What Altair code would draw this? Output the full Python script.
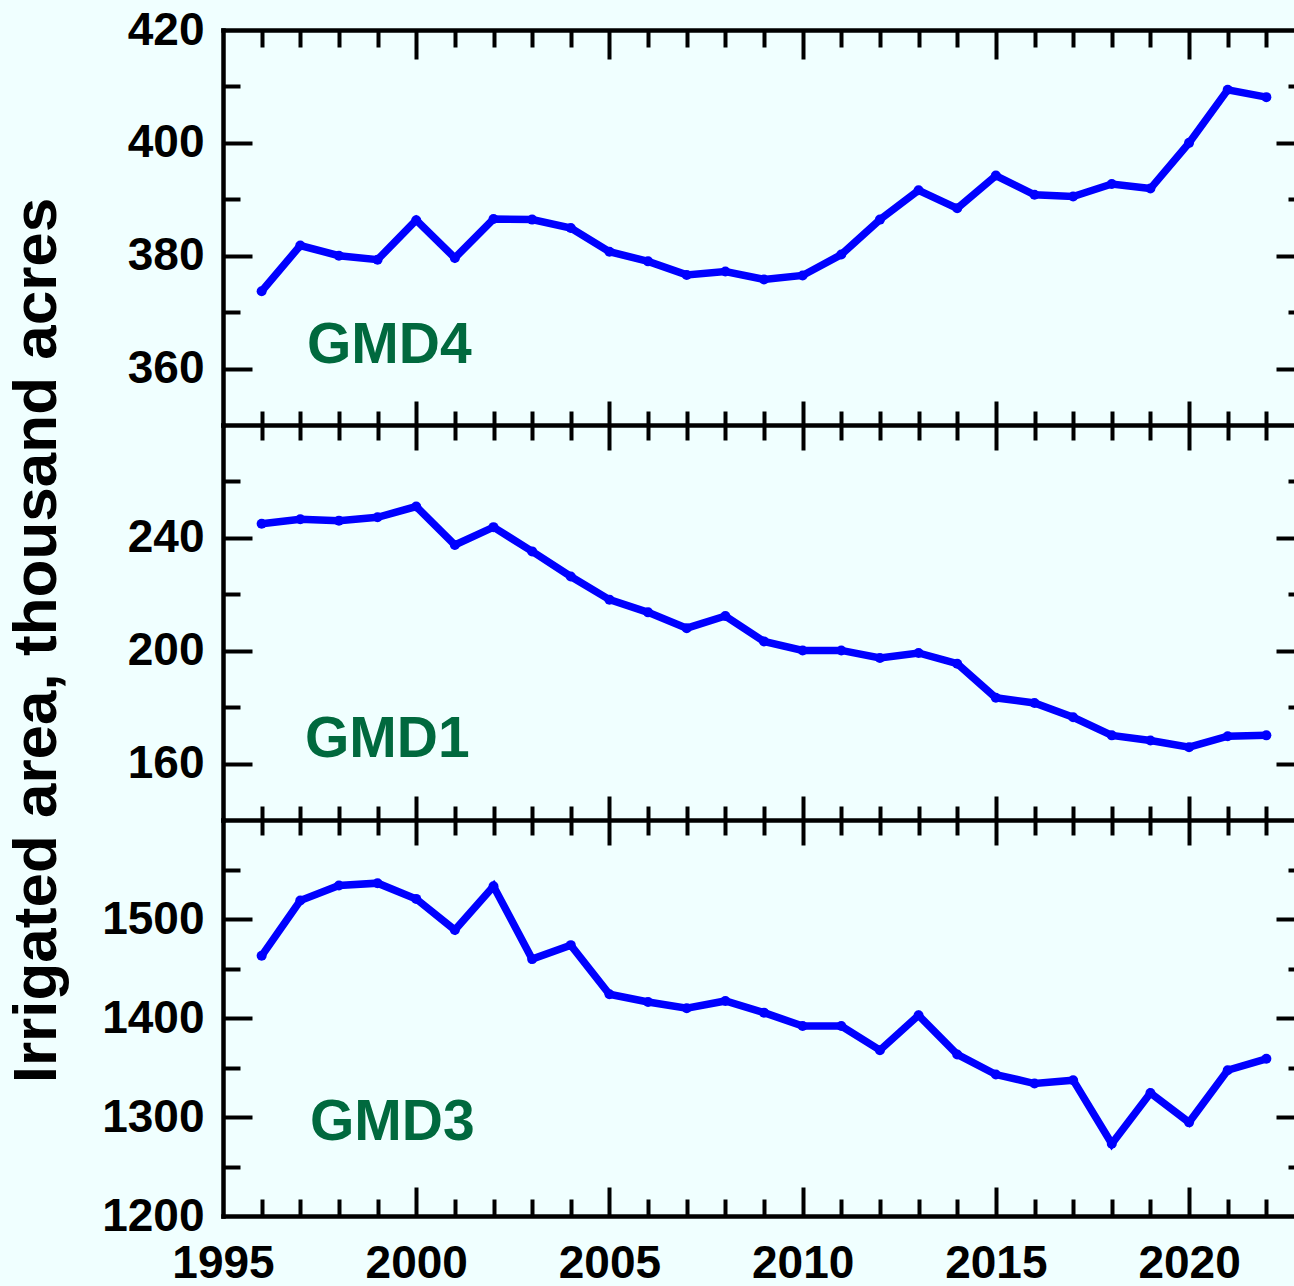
import altair as alt
import pandas as pd

# Irrigated area (thousand acres) by groundwater management district
years = list(range(1996, 2023))

gmd4 = [373.7, 381.8, 380.0, 379.3, 386.3, 379.6, 386.5, 386.4, 384.9, 380.7,
        379.0, 376.6, 377.2, 375.8, 376.5, 380.2, 386.4, 391.6, 388.4, 394.2,
        390.8, 390.5, 392.7, 391.9, 400.0, 409.4, 408.1]

gmd1 = [245.0, 246.6, 246.1, 247.3, 251.1, 237.5, 243.8, 235.2, 226.3, 218.1,
        213.6, 208.0, 212.3, 203.3, 200.1, 200.1, 197.4, 199.2, 195.4, 183.3,
        181.5, 176.4, 170.0, 168.2, 165.8, 169.7, 170.0]

gmd3 = [1462.8, 1518.6, 1533.8, 1536.2, 1520.3, 1488.9, 1533.1, 1459.5, 1473.6, 1424.0,
        1416.2, 1409.8, 1417.2, 1405.4, 1391.9, 1391.9, 1367.5, 1402.7, 1363.2, 1342.9,
        1333.8, 1337.2, 1273.0, 1324.3, 1294.6, 1347.3, 1358.8]

district_names = ["GMD4", "GMD1", "GMD3"]
series = [gmd4, gmd1, gmd3]

x_domain = [1995, 2023]
x_labels = [1995, 2000, 2005, 2010, 2015, 2020]
x_major = [2000, 2005, 2010, 2015, 2020]
x_minor = [y for y in range(1996, 2023) if y % 5 != 0]

y_domains = [[350, 420], [140, 280], [1200, 1600]]
y_labels = [[360, 380, 400, 420], [160, 200, 240], [1200, 1300, 1400, 1500]]
y_major = [[360, 380, 400], [160, 200, 240], [1300, 1400, 1500]]
y_minor = [[370, 390, 410], [180, 220, 260], [1250, 1350, 1450, 1550]]

FONT = "Liberation Sans"
BLUE = "#0000FF"
GREEN = "#00693E"

# layout: one tall view split into three stacked bands
VIEW_W = 1071          # visible part of the plot
X_SPAN = 1082          # full x range; the right frame sits just past the page edge
H = 1186
BANDS = [(0, 395), (395, 790), (790, H)]
MAJOR, MINOR = 29, 17          # tick lengths at the outer frame
UP_MAJOR, UP_MINOR = 24, 14    # ticks rising from a band boundary
DN_MAJOR, DN_MINOR = 25, 15    # ticks hanging from a band boundary
FRAME_W = 4.5

xs = alt.Scale(domain=x_domain, range=[0, X_SPAN], nice=False, zero=False)


def yscale(i):
    top, bottom = BANDS[i]
    return alt.Scale(domain=y_domains[i], range=[bottom, top], nice=False, zero=False)


def tick_axis(orient, values, length, offset, domain=False):
    return alt.Axis(orient=orient, values=values, tickSize=length, offset=offset,
                    tickWidth=4, tickColor="black", labels=False, domain=domain,
                    domainWidth=FRAME_W, domainColor="black", domainCap="square",
                    grid=False, title=None)


# x tick axes attached to each band: (bottom-orient = hanging down, top-orient = rising up)
x_tick_axes = [
    [tick_axis("bottom", x_major, MAJOR, -H, domain=True),
     tick_axis("bottom", x_minor, MINOR, -H),
     tick_axis("top", x_major, UP_MAJOR, -BANDS[0][1]),
     tick_axis("top", x_minor, UP_MINOR, -BANDS[0][1])],
    [tick_axis("bottom", x_major, DN_MAJOR, BANDS[1][0] - H, domain=True),
     tick_axis("bottom", x_minor, DN_MINOR, BANDS[1][0] - H),
     tick_axis("top", x_major, UP_MAJOR, -BANDS[1][1]),
     tick_axis("top", x_minor, UP_MINOR, -BANDS[1][1])],
    [tick_axis("bottom", x_major, DN_MAJOR, BANDS[2][0] - H, domain=True),
     tick_axis("bottom", x_minor, DN_MINOR, BANDS[2][0] - H),
     tick_axis("top", x_major, MAJOR, -H, domain=True),
     tick_axis("top", x_minor, MINOR, -H)],
]

text_pos = [(84, 333), (82, 727), (87, 1110)]

layers = []
for i, values in enumerate(series):
    df = pd.DataFrame({"year": years, "area": values})
    base = alt.Chart(df)
    ys = yscale(i)

    y_ticks = [
        tick_axis("right", y_major[i], MAJOR, -VIEW_W, domain=True),
        tick_axis("right", y_minor[i], MINOR, -VIEW_W),
        tick_axis("left", y_major[i], MAJOR, -X_SPAN),
        tick_axis("left", y_minor[i], MINOR, -X_SPAN),
    ]
    for xa, ya in zip(x_tick_axes[i], y_ticks):
        layers.append(base.mark_point(opacity=0).encode(
            x=alt.X("year:Q", scale=xs, axis=xa),
            y=alt.Y("area:Q", scale=ys, axis=ya),
        ))

    y_kw = dict(orient="left", values=y_labels[i], format="d", ticks=False, tickSize=0,
                domain=False, grid=False, labelFont=FONT, labelFontWeight="bold",
                labelFontSize=46, labelColor="black", labelPadding=19,
                labelOverlap=False, title=None)
    if i == 1:
        y_kw.update(title="Irrigated area, thousand acres", titleFont=FONT,
                    titleFontWeight="bold", titleFontSize=62, titleColor="black",
                    titleAngle=270, titleX=-168, titleY=610, titleAlign="center",
                    titleBaseline="alphabetic")
    x_axis = None
    if i == 2:
        x_axis = alt.Axis(orient="bottom", values=x_labels, format="d", ticks=False,
                          tickSize=0, domain=False, grid=False, title=None,
                          labelFont=FONT, labelFontWeight="bold", labelFontSize=46,
                          labelColor="black", labelPadding=25, labelFlush=False,
                          labelOverlap=False)

    layers.append(base.mark_line(color=BLUE, strokeWidth=7.5).encode(
        x=alt.X("year:Q", scale=xs, axis=x_axis),
        y=alt.Y("area:Q", scale=ys, axis=alt.Axis(**y_kw)),
    ))
    layers.append(base.mark_point(filled=True, size=100, color=BLUE, opacity=1).encode(
        x=alt.X("year:Q", scale=xs, axis=None),
        y=alt.Y("area:Q", scale=ys, axis=None),
    ))
    layers.append(alt.Chart(pd.DataFrame({"label": [district_names[i]]})).mark_text(
        align="left", baseline="alphabetic", font=FONT, fontWeight="bold",
        fontSize=57, color=GREEN,
    ).encode(text="label:N", x=alt.value(text_pos[i][0]), y=alt.value(text_pos[i][1])))

chart = alt.layer(*layers).resolve_scale(y="independent").resolve_axis(
    x="independent", y="independent"
).properties(
    width=VIEW_W,
    height=H,
    background="#F0FFFF",
    autosize=alt.AutoSizeParams(type="none"),
    padding={"left": 223, "top": 30, "right": 0, "bottom": 70},
).configure_view(stroke=None)

chart.save("out.html", embed_options={"renderer": "svg", "actions": False})
